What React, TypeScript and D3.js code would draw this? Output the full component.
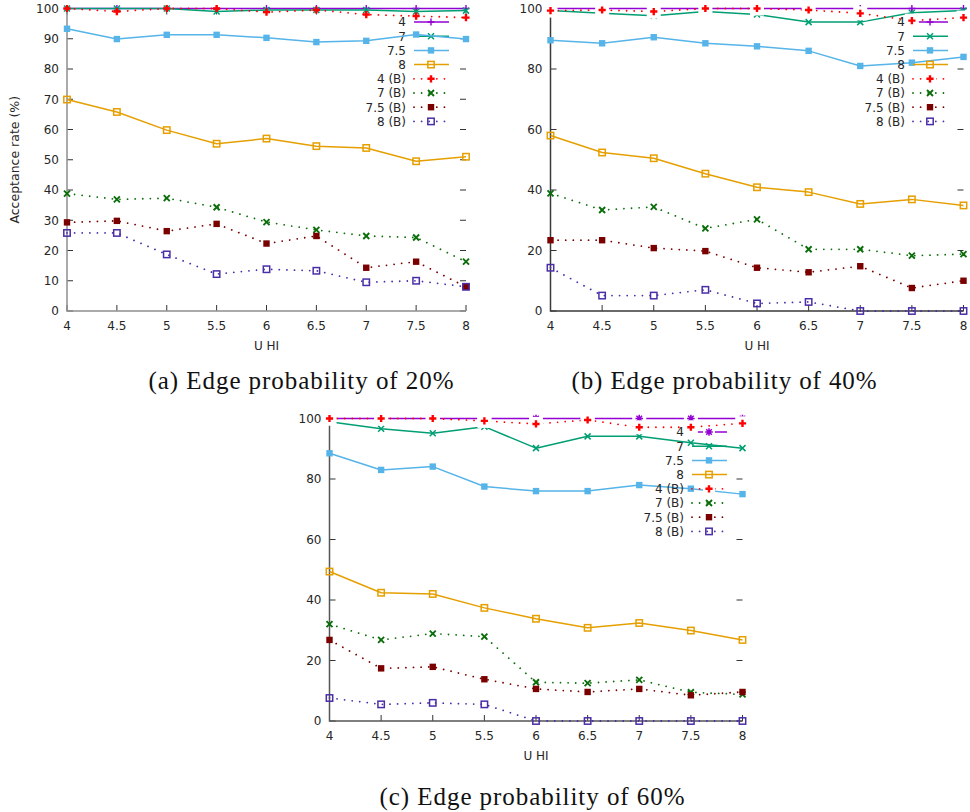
import React from "react";
import * as d3 from "d3";

// ---------- data ----------
const uHI = [4, 4.5, 5, 5.5, 6, 6.5, 7, 7.5, 8];
const xTickLabels = ["4", "4.5", "5", "5.5", "6", "6.5", "7", "7.5", "8"];
const yTicksA = [0, 10, 20, 30, 40, 50, 60, 70, 80, 90, 100];
const yTicksBC = [0, 20, 40, 60, 80, 100];
const seriesLabels = ["4", "7", "7.5", "8", "4 (B)", "7 (B)", "7.5 (B)", "8 (B)"];

// (a) edge probability 20%
const a4 = [100, 100, 100, 100, 100, 100, 100, 100, 100];
const a7 = [100, 100, 100, 99, 99.5, 99.5, 99.5, 99, 99.3];
const a75 = [93.3, 89.9, 91.3, 91.3, 90.3, 88.9, 89.3, 91.4, 89.9];
const a8 = [69.9, 65.8, 59.8, 55.3, 57, 54.5, 53.9, 49.5, 51];
const a4B = [100, 99, 100, 100, 98.8, 99.5, 98, 97.5, 97];
const a7B = [38.8, 36.9, 37.3, 34.3, 29.4, 26.8, 24.8, 24.3, 16.3];
const a75B = [29.3, 29.8, 26.4, 28.8, 22.3, 24.8, 14.3, 16.3, 8];
const a8B = [25.8, 25.8, 18.7, 12.2, 13.8, 13.3, 9.5, 10, 8];

// (b) edge probability 40%
const b4 = [100, 100, 100, 100, 100, 100, 100, 100, 100];
const b7 = [99.3, 98.4, 97.6, 99, 98, 95.5, 95.5, 98.6, 99.3];
const b75 = [89.5, 88.5, 90.5, 88.5, 87.5, 86, 81, 82.1, 84];
const b8 = [58, 52.4, 50.5, 45.4, 40.9, 39.3, 35.4, 36.9, 34.9];
const b4B = [99.3, 99.5, 99, 100, 100, 99.5, 98.4, 96, 97];
const b7B = [38.9, 33.4, 34.4, 27.3, 30.3, 20.4, 20.4, 18.3, 18.8];
const b75B = [23.4, 23.4, 20.8, 19.8, 14.3, 12.8, 14.8, 7.6, 10];
const b8B = [14.3, 5.1, 5.1, 7, 2.5, 3, 0, 0, 0];

// (c) edge probability 60%
const c4 = [100, 100, 100, 100, 100, 100, 100, 100, 100];
const c7 = [98.9, 96.6, 95.1, 97.3, 90.2, 94.1, 94.1, 92, 90.2];
const c75 = [88.5, 83, 84.1, 77.5, 76, 76, 78, 76.8, 75];
const c8 = [49.4, 42.4, 42, 37.4, 33.8, 30.8, 32.4, 29.9, 26.8];
const c4B = [100, 100, 100, 99.2, 98.2, 99.5, 97.1, 97.1, 98.4];
const c7B = [32, 26.8, 28.9, 27.9, 12.8, 12.5, 13.6, 9.5, 8.8];
const c75B = [26.8, 17.4, 17.9, 13.8, 10.6, 9.6, 10.6, 8.5, 9.6];
const c8B = [7.6, 5.5, 6, 5.5, 0, 0, 0, 0, 0];

const captionA = "(a) Edge probability of 20%";
const captionB = "(b) Edge probability of 40%";
const captionC = "(c) Edge probability of 60%";
const xAxisTitle = "U HI";
const yAxisTitle = "Acceptance rate (%)";

// ---------- styles ----------
type MarkerType = "plus" | "cross" | "fsquare" | "osquare" | "bplus" | "bcross" | "star";
const seriesStyles: { color: string; dotted: boolean; marker: MarkerType }[] = [
  { color: "#9400d3", dotted: false, marker: "plus" },
  { color: "#009e73", dotted: false, marker: "cross" },
  { color: "#56b4e9", dotted: false, marker: "fsquare" },
  { color: "#e69f00", dotted: false, marker: "osquare" },
  { color: "#ff0000", dotted: true, marker: "bplus" },
  { color: "#0b6e0b", dotted: true, marker: "bcross" },
  { color: "#7a0000", dotted: true, marker: "fsquare" },
  { color: "#4a2ea8", dotted: true, marker: "osquare" },
];

const FONT = "'DejaVu Sans', sans-serif";
const TEXT = "#262626";

function Marker({ type, x, y, color }: { type: MarkerType; x: number; y: number; color: string }) {
  const s = 3.5;
  switch (type) {
    case "plus":
      return <path d={`M${x - s},${y}H${x + s}M${x},${y - s}V${y + s}`} stroke={color} strokeWidth={1.4} fill="none" />;
    case "bplus":
      return <path d={`M${x - 3.6},${y}H${x + 3.6}M${x},${y - 3.6}V${y + 3.6}`} stroke={color} strokeWidth={2.4} fill="none" />;
    case "cross":
      return <path d={`M${x - 3},${y - 3}L${x + 3},${y + 3}M${x - 3},${y + 3}L${x + 3},${y - 3}`} stroke={color} strokeWidth={1.5} fill="none" />;
    case "bcross":
      return <path d={`M${x - 3},${y - 3}L${x + 3},${y + 3}M${x - 3},${y + 3}L${x + 3},${y - 3}`} stroke={color} strokeWidth={1.9} fill="none" />;
    case "star":
      return (
        <path
          d={`M${x - 3.8},${y}H${x + 3.8}M${x},${y - 3.8}V${y + 3.8}M${x - 2.8},${y - 2.8}L${x + 2.8},${y + 2.8}M${x - 2.8},${y + 2.8}L${x + 2.8},${y - 2.8}`}
          stroke={color}
          strokeWidth={1.5}
          fill="none"
        />
      );
    case "fsquare":
      return <rect x={x - 3.2} y={y - 3.2} width={6.4} height={6.4} fill={color} />;
    case "osquare":
      return <rect x={x - 3.2} y={y - 3.2} width={6.4} height={6.4} fill="none" stroke={color} strokeWidth={1.5} />;
  }
  return null;
}

interface PanelCfg {
  data: number[][];
  x0: number;
  x1: number;
  yTop: number;
  yBot: number;
  yTicks: number[];
  axisColor: string;
  legendX: number;
  legendY: number;
  showYTitle: boolean;
  boxRed: boolean;
  star4: boolean;
  xTitleY: number;
  tickLabelY: number;
}

const panels: PanelCfg[] = [
  {
    data: [a4, a7, a75, a8, a4B, a7B, a75B, a8B],
    x0: 67, x1: 466, yTop: 8.5, yBot: 311, yTicks: yTicksA, axisColor: "#8f8f8f",
    legendX: 414, legendY: 22, showYTitle: true, boxRed: false, star4: false, xTitleY: 350, tickLabelY: 330,
  },
  {
    data: [b4, b7, b75, b8, b4B, b7B, b75B, b8B],
    x0: 550.5, x1: 963.5, yTop: 8.5, yBot: 311, yTicks: yTicksBC, axisColor: "#3a3a3a",
    legendX: 913, legendY: 22, showYTitle: false, boxRed: true, star4: false, xTitleY: 350, tickLabelY: 330,
  },
  {
    data: [c4, c7, c75, c8, c4B, c7B, c75B, c8B],
    x0: 329.5, x1: 742.5, yTop: 418.5, yBot: 721, yTicks: yTicksBC, axisColor: "#555555",
    legendX: 692, legendY: 432, showYTitle: false, boxRed: true, star4: true, xTitleY: 760, tickLabelY: 740,
  },
];

function Panel({ cfg }: { cfg: PanelCfg }) {
  const x = d3.scaleLinear().domain([4, 8]).range([cfg.x0, cfg.x1]);
  const y = d3.scaleLinear().domain([0, 100]).range([cfg.yBot, cfg.yTop]);
  const line = d3
    .line<number>()
    .x((_, i) => x(uHI[i]))
    .y((v) => y(v));
  const tickLen = 6;
  const rowH = 14.2;
  const sampleLen = 35;

  const styleFor = (si: number) => {
    const st = seriesStyles[si];
    if (si === 0 && cfg.star4) return { ...st, marker: "star" as MarkerType };
    return st;
  };
  const hasBox = (si: number) => (si === 4 && cfg.boxRed) || (si === 0 && cfg.star4);

  return (
    <g>
      {/* ticks */}
      {cfg.yTicks.map((t) => (
        <g key={"yt" + t}>
          <line x1={cfg.x0} x2={cfg.x0 + tickLen} y1={y(t)} y2={y(t)} stroke="#333" strokeWidth={1} />
          <line x1={cfg.x1} x2={cfg.x1 - tickLen} y1={y(t)} y2={y(t)} stroke="#333" strokeWidth={1} />
          <text x={cfg.x0 - 8} y={y(t) + 4.3} textAnchor="end" fontFamily={FONT} fontSize={12} fill={TEXT}>
            {t}
          </text>
        </g>
      ))}
      {uHI.map((u, i) => (
        <g key={"xt" + u}>
          <line x1={x(u)} x2={x(u)} y1={cfg.yBot} y2={cfg.yBot - tickLen} stroke="#333" strokeWidth={1} />
          <line x1={x(u)} x2={x(u)} y1={cfg.yTop} y2={cfg.yTop + tickLen} stroke="#333" strokeWidth={1} />
          <text x={x(u)} y={cfg.tickLabelY} textAnchor="middle" fontFamily={FONT} fontSize={12} fill={TEXT}>
            {xTickLabels[i]}
          </text>
        </g>
      ))}
      {/* axes */}
      <path d={`M${cfg.x0},${cfg.yTop}V${cfg.yBot}H${cfg.x1}`} stroke={cfg.axisColor} strokeWidth={1.5} fill="none" />
      <text x={(cfg.x0 + cfg.x1) / 2} y={cfg.xTitleY} textAnchor="middle" fontFamily={FONT} fontSize={12} fill={TEXT}>
        {xAxisTitle}
      </text>
      {cfg.showYTitle && (
        <text
          transform={`translate(19,${(cfg.yTop + cfg.yBot) / 2}) rotate(-90)`}
          textAnchor="middle"
          fontFamily={FONT}
          fontSize={12.5}
          fill={TEXT}
        >
          {yAxisTitle}
        </text>
      )}
      {/* series + legend entries */}
      {cfg.data.map((vals, si) => {
        const st = styleFor(si);
        const ly = cfg.legendY + si * rowH;
        const sx0 = cfg.legendX;
        const sx1 = cfg.legendX + sampleLen;
        const mx = cfg.legendX + 17;
        const dash = st.dotted ? "0.01 7.6" : undefined;
        return (
          <g key={"s" + si}>
            <text x={sx0 - 8} y={ly + 4.3} textAnchor="end" fontFamily={FONT} fontSize={12} fill={TEXT}>
              {seriesLabels[si]}
            </text>
            <line
              x1={sx0}
              x2={sx1}
              y1={ly}
              y2={ly}
              stroke={st.color}
              strokeWidth={st.dotted ? 1.8 : 1.5}
              strokeDasharray={dash}
              strokeLinecap={st.dotted ? "round" : "butt"}
            />
            {hasBox(si) && <rect x={mx - 6} y={ly - 6} width={12} height={12} fill="#fff" />}
            <Marker type={st.marker} x={mx} y={ly} color={st.color} />
            <path
              d={line(vals) || ""}
              fill="none"
              stroke={st.color}
              strokeWidth={st.dotted ? 1.8 : 1.5}
              strokeDasharray={dash}
              strokeLinecap={st.dotted ? "round" : "butt"}
              strokeLinejoin="round"
            />
            {hasBox(si) &&
              vals.map((v, i) => (
                <rect key={"bx" + i} x={x(uHI[i]) - 7} y={y(v) - 7} width={14} height={14} fill="#fff" />
              ))}
            {vals.map((v, i) => (
              <Marker key={"m" + i} type={st.marker} x={x(uHI[i])} y={y(v)} color={st.color} />
            ))}
          </g>
        );
      })}
    </g>
  );
}

const captions = [
  { text: captionA, x: 301, y: 389 },
  { text: captionB, x: 724, y: 389 },
  { text: captionC, x: 532, y: 805 },
];

export default function App() {
  return (
    <svg
      width={970}
      height={812}
      viewBox="0 0 970 812"
      style={{ position: "absolute", left: 0, top: 0, background: "#fff" }}
    >
      <rect x={0} y={0} width={970} height={812} fill="#fff" />
      {panels.map((p, i) => (
        <Panel key={i} cfg={p} />
      ))}
      {captions.map((c, i) => (
        <text
          key={i}
          x={c.x}
          y={c.y}
          textAnchor="middle"
          fontFamily="'Liberation Serif', 'Times New Roman', serif"
          fontSize={25}
          fill="#111"
          textLength={305}
          lengthAdjust="spacing"
        >
          {c.text}
        </text>
      ))}
    </svg>
  );
}
